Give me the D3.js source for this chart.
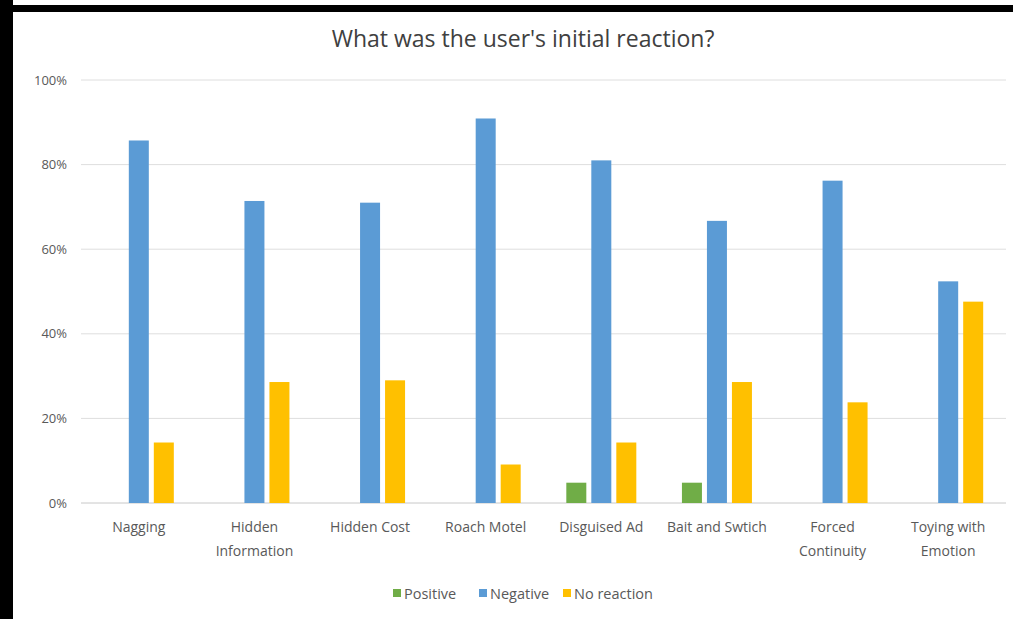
<!DOCTYPE html>
<html>
<head>
<meta charset="utf-8">
<script src="https://cdn.jsdelivr.net/npm/d3@7"></script>
<style>
  body { margin: 0; background: #fff; }
  svg { display: block; font-family: "Open Sans", sans-serif; }
</style>
</head>
<body>
<svg id="chart" width="1013" height="619"></svg>
<script>
const categories = ["Nagging", "Hidden Information", "Hidden Cost", "Roach Motel",
  "Disguised Ad", "Bait and Swtich", "Forced Continuity", "Toying with Emotion"];
// how the axis labels wrap in the original
const categoryLines = [["Nagging"], ["Hidden", "Information"], ["Hidden Cost"], ["Roach Motel"],
  ["Disguised Ad"], ["Bait and Swtich"], ["Forced", "Continuity"], ["Toying with", "Emotion"]];
const seriesNames = ["Positive", "Negative", "No reaction"];
const positive = [0, 0, 0, 0, 4.8, 4.8, 0, 0];
const negative = [85.7, 71.4, 71.0, 90.9, 81.0, 66.7, 76.2, 52.4];
const noReaction = [14.3, 28.6, 29.0, 9.1, 14.3, 28.6, 23.8, 47.6];
const yTicks = [0, 20, 40, 60, 80, 100];
const colors = ["#70ad47", "#5b9bd5", "#ffc000"];

const svg = d3.select("#chart");
const values = [positive, negative, noReaction];

// frame (black edges of the screenshot)
svg.append("rect").attr("x", 0).attr("y", 0).attr("width", 13).attr("height", 619).attr("fill", "#000");
svg.append("rect").attr("x", 0).attr("y", 5).attr("width", 1013).attr("height", 7).attr("fill", "#000");

const x = d3.scaleBand().domain(categories).range([81, 1006]);
const xs = d3.scaleBand().domain(seriesNames).range([-37.5, 37.5]).paddingInner(0.2).paddingOuter(0.1);
const y = d3.scaleLinear().domain([0, 100]).range([503, 80]);

// gridlines
svg.append("g").selectAll("line").data(yTicks).join("line")
  .attr("x1", 81).attr("x2", 1006)
  .attr("y1", d => y(d)).attr("y2", d => y(d))
  .attr("stroke", d => d === 0 ? "#c8c8c8" : "#dedede").attr("stroke-width", 1);

// y labels
svg.append("g").selectAll("text").data(yTicks).join("text")
  .attr("x", 67).attr("y", d => y(d)).attr("dy", "0.35em")
  .attr("text-anchor", "end").attr("font-size", 13).attr("fill", "#595959")
  .text(d => d + "%");

// bars
const rows = [];
categories.forEach((c, i) => {
  seriesNames.forEach((s, j) => {
    rows.push({ cat: c, series: s, v: values[j][i], color: colors[j] });
  });
});
svg.append("g").selectAll("rect").data(rows.filter(d => d.v > 0)).join("rect")
  .attr("x", d => x(d.cat) + x.bandwidth() / 2 + xs(d.series))
  .attr("width", xs.bandwidth())
  .attr("y", d => y(d.v))
  .attr("height", d => y(0) - y(d.v))
  .attr("fill", d => d.color);

// category labels
const cl = svg.append("g").selectAll("text").data(categories).join("text")
  .attr("x", d => x(d) + x.bandwidth() / 2)
  .attr("y", 532)
  .attr("text-anchor", "middle").attr("font-size", 14).attr("fill", "#595959");
cl.each(function(d, i) {
  d3.select(this).selectAll("tspan").data(categoryLines[i]).join("tspan")
    .attr("x", x(d) + x.bandwidth() / 2)
    .attr("dy", (t, k) => k === 0 ? 0 : 24)
    .text(t => t);
});

// title
svg.append("text").attr("x", 523).attr("y", 47).attr("text-anchor", "middle")
  .attr("font-size", 23).attr("fill", "#404040")
  .text("What was the user's initial reaction?");

// legend
const legendX = [393, 479, 563];
const lg = svg.append("g").selectAll("g").data(seriesNames).join("g")
  .attr("transform", (d, i) => `translate(${legendX[i]},594)`);
lg.append("rect").attr("x", 0).attr("y", -5).attr("width", 8).attr("height", 8)
  .attr("fill", (d, i) => colors[i]);
lg.append("text").attr("x", 11).attr("y", 0).attr("dy", "0.35em")
  .attr("font-size", 14.5).attr("fill", "#595959").text(d => d);
</script>
</body>
</html>
